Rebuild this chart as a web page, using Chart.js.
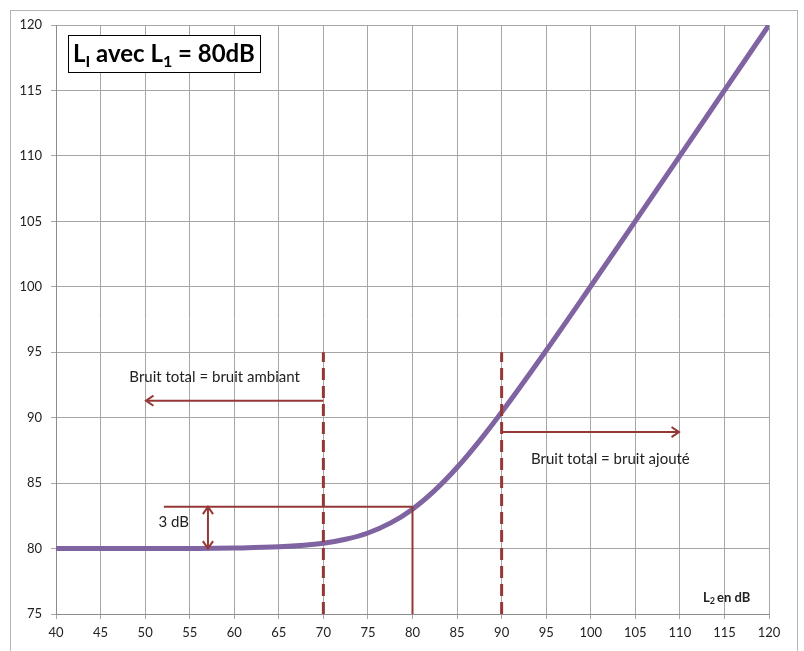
<!DOCTYPE html>
<html>
<head>
<meta charset="utf-8">
<script src="https://cdn.jsdelivr.net/npm/chart.js@4.4.1/dist/chart.umd.min.js"></script>
<style>
  html, body { margin: 0; padding: 0; background: #fff; }
  #wrap { width: 804px; height: 651px; }
</style>
</head>
<body>
<div id="wrap"><canvas id="niveauChart" width="804" height="651"></canvas></div>
<script>
// L2 (dB) et niveau total
const l2Values = [40, 45, 50, 55, 60, 65, 70, 72.5, 75, 77.5, 80, 82.5, 85, 87.5, 90, 95, 100, 105, 110, 115, 120];
const totalValues = [80.0, 80.0, 80.0, 80.01, 80.04, 80.13, 80.41, 80.71, 81.19, 81.94, 83.01, 84.44, 86.19, 88.21, 90.41, 95.13, 100.04, 105.01, 110.0, 115.0, 120.0];

// reperes
const dashedX = [70, 90];
const dashedTop = 95;
const markX = 80;
const markY = 83.2;
const markStartX = 52.1;
const threeDbX = 57.05;
const leftArrow = [70, 50.1, 91.3];   // x depart, x pointe, y
const rightArrow = [90, 109.9, 88.9];

const textLabels = ['Bruit total = bruit ambiant', 'Bruit total = bruit ajouté', '3 dB'];
const textX = [57.8, 102.2, 53.2];
const textY = [93.1, 86.85, 82.0];

const red = '#953735';
const purple = '#8064a2';
const fontName = 'Lato, "Liberation Sans", sans-serif';

function seg(x1, y1, x2, y2) {
  return [{ x: x1, y: y1 }, { x: x2, y: y2 }];
}

function refLine(data, width, dash) {
  return {
    data: data,
    borderColor: red,
    borderWidth: width,
    borderDash: dash || [],
    pointRadius: 0,
    tension: 0,
    order: 1
  };
}

const datasets = [
  {
    data: l2Values.map((x, i) => ({ x: x, y: totalValues[i] })),
    borderColor: purple,
    borderWidth: 5,
    pointRadius: 0,
    cubicInterpolationMode: 'monotone',
    order: 2
  },
  refLine(seg(dashedX[0], 75, dashedX[0], dashedTop), 3, [12, 6]),
  refLine(seg(dashedX[1], 75, dashedX[1], dashedTop), 3, [12, 6]),
  refLine(seg(markX, 75, markX, markY), 2),
  refLine(seg(markStartX, markY, markX, markY), 2),
  refLine(seg(threeDbX, 80, threeDbX, markY), 2),
  refLine(seg(leftArrow[0], leftArrow[2], leftArrow[1], leftArrow[2]), 2),
  refLine(seg(rightArrow[0], rightArrow[2], rightArrow[1], rightArrow[2]), 2)
];

function chevron(ctx, x, y, angle) {
  const len = 9, spread = 0.6;
  ctx.beginPath();
  ctx.moveTo(x - len * Math.cos(angle - spread), y - len * Math.sin(angle - spread));
  ctx.lineTo(x, y);
  ctx.lineTo(x - len * Math.cos(angle + spread), y - len * Math.sin(angle + spread));
  ctx.stroke();
}

const decorations = {
  id: 'decorations',
  beforeDraw: function (chart) {
    const ctx = chart.ctx;
    ctx.save();
    ctx.fillStyle = '#fff';
    ctx.fillRect(0, 0, chart.width, chart.height);
    ctx.strokeStyle = '#b5b5b5';
    ctx.lineWidth = 1;
    ctx.strokeRect(10.5, 10.5, 787, 645);
    ctx.restore();
  },
  afterDatasetsDraw: function (chart) {
    const ctx = chart.ctx;
    const xs = chart.scales.x, ys = chart.scales.y;
    const area = chart.chartArea;
    ctx.save();

    // pointes de fleches
    ctx.strokeStyle = red;
    ctx.lineWidth = 2;
    chevron(ctx, xs.getPixelForValue(leftArrow[1]), ys.getPixelForValue(leftArrow[2]), Math.PI);
    chevron(ctx, xs.getPixelForValue(rightArrow[1]), ys.getPixelForValue(rightArrow[2]), 0);
    chevron(ctx, xs.getPixelForValue(threeDbX), ys.getPixelForValue(markY), -Math.PI / 2);
    chevron(ctx, xs.getPixelForValue(threeDbX), ys.getPixelForValue(80), Math.PI / 2);

    // textes
    ctx.fillStyle = '#222';
    ctx.font = '15px ' + fontName;
    ctx.textAlign = 'center';
    ctx.textBaseline = 'middle';
    textLabels.forEach(function (t, i) {
      ctx.fillText(t, xs.getPixelForValue(textX[i]), ys.getPixelForValue(textY[i]));
    });

    // L2 en dB
    let px = xs.getPixelForValue(115.4) - 25, py = ys.getPixelForValue(76.2);
    ctx.textAlign = 'left';
    ctx.font = 'bold 13px ' + fontName;
    ctx.fillText('L', px, py);
    px += ctx.measureText('L').width;
    ctx.font = 'bold 9px ' + fontName;
    ctx.fillText('2', px, py + 3);
    px += ctx.measureText('2').width + 2;
    ctx.font = 'bold 13px ' + fontName;
    ctx.fillText('en dB', px, py);

    // encadre du titre
    const bx = area.left + 12, by = area.top + 10;
    ctx.fillStyle = '#fff';
    ctx.fillRect(bx, by, 192, 37);
    ctx.strokeStyle = '#000';
    ctx.lineWidth = 1;
    ctx.strokeRect(bx + 0.5, by + 0.5, 192, 37);
    ctx.fillStyle = '#000';
    ctx.textBaseline = 'alphabetic';
    const parts = [['L', 24, 0], ['I', 16, 5], [' avec L', 24, 0], ['1', 16, 5], [' = 80dB', 24, 0]];
    let tx = bx + 5;
    const ty = by + 27;
    parts.forEach(function (p) {
      ctx.font = 'bold ' + p[1] + 'px ' + fontName;
      ctx.fillText(p[0], tx, ty + p[2]);
      tx += ctx.measureText(p[0]).width;
    });
    ctx.restore();
  }
};

new Chart(document.getElementById('niveauChart').getContext('2d'), {
  type: 'line',
  data: { datasets: datasets },
  options: {
    responsive: false,
    animation: false,
    events: [],
    layout: { padding: { left: 10, right: 35, top: 25, bottom: 7 } },
    plugins: {
      legend: { display: false },
      tooltip: { enabled: false }
    },
    scales: {
      x: {
        type: 'linear',
        min: 40,
        max: 120,
        ticks: { stepSize: 5, color: '#222', padding: 6, font: { family: fontName, size: 13 } },
        grid: { color: '#a6a6a6', lineWidth: 1, tickLength: 5 },
        border: { color: '#8c8c8c' },
        afterFit: function (scale) { scale.height = 30; }
      },
      y: {
        min: 75,
        max: 120,
        ticks: { stepSize: 5, color: '#222', padding: 9, font: { family: fontName, size: 13 } },
        grid: { color: '#a6a6a6', lineWidth: 1, tickLength: 5 },
        border: { color: '#8c8c8c' },
        afterFit: function (scale) { scale.width = 46; }
      }
    }
  },
  plugins: [decorations]
});
</script>
</body>
</html>
